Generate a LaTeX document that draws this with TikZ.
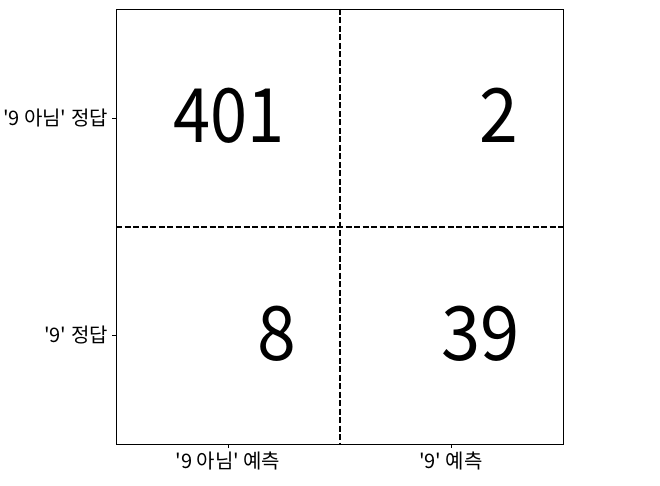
\documentclass[tikz,border=0pt]{standalone}
\usepackage{fontspec}
\newfontfamily\kr{Noto Sans CJK KR}
\usetikzlibrary{positioning}

\begin{document}
\begin{tikzpicture}[x=1pt,y=-1pt,
					cnt/.style={font=\kr\fontsize{75}{75}\selectfont, anchor=base east, inner sep=0pt},
					lbl/.style={font=\kr\fontsize{20}{20}\selectfont, inner sep=0pt},
					sep/.style={line width=2pt, dash pattern=on 6pt off 2.5pt},
					tick/.style={line width=0.8pt}]
					\useasboundingbox (0,0) rectangle (660,486);
					\node[draw, line width=0.8pt, minimum width=447pt, minimum height=435pt,
						anchor=north west, inner sep=0pt] (box) at (116,9) {};
					\draw[sep] (box.north) -- (box.south);
					\draw[sep] (box.west) -- (box.east);
					% counts
					\node[cnt] (tn) at (285,143) {\scalebox{0.89}[1]{401}};
					\node[cnt] (fp) at (518,143) {\scalebox{0.93}[1]{2}};
					\node[cnt] (fn) at (296,360) {\scalebox{0.93}[1]{8}};
					\node[cnt] (tp) at (520,360) {\scalebox{0.94}[1]{39}};
					% ticks and labels
					\coordinate (y1) at (116,118);
					\coordinate (y2) at (116,335);
					\coordinate (x1) at (228,444);
					\coordinate (x2) at (451,444);
					\draw[tick] (y1) -- ++(-4,0);
					\draw[tick] (y2) -- ++(-4,0);
					\draw[tick] (x1) -- ++(0,4);
					\draw[tick] (x2) -- ++(0,4);
					\node[lbl, left=8pt of y1] (ly1) {'9 아님' 정답};
					\node[lbl, left=8pt of y2] (ly2) {'9' 정답};
					\node[lbl, below=8pt of x1] (lx1) {'9 아님' 예측};
					\node[lbl, below=8pt of x2] (lx2) {'9' 예측};
				\end{tikzpicture}
\end{document}
